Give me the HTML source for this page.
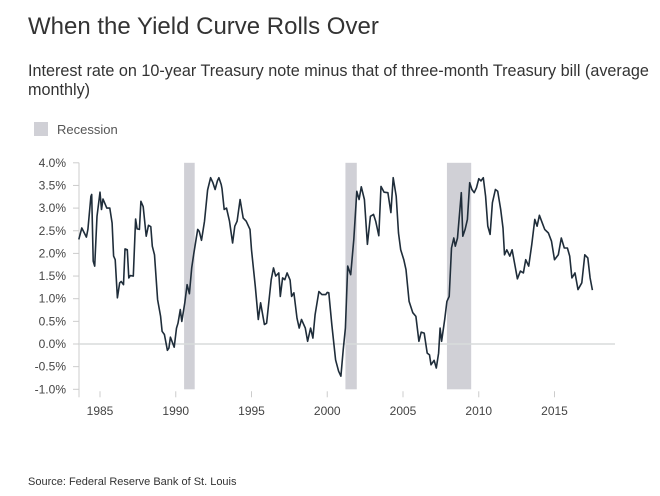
<!DOCTYPE html>
<html><head><meta charset="utf-8"><style>
body{margin:0;background:#fff;width:660px;height:496px;overflow:hidden;font-family:"Liberation Sans",sans-serif;}
#title{position:absolute;left:28px;top:13px;font-size:24px;color:#333;}
#sub{position:absolute;left:28px;top:62px;width:632px;font-size:16.2px;line-height:19px;color:#333;}
#leg{position:absolute;left:34px;top:122px;font-size:13px;color:#555;}
#leg span.b{display:inline-block;width:14px;height:14px;background:#d0d0d6;vertical-align:-2px;margin-right:9px;}
#src{position:absolute;left:28px;top:476px;font-size:11px;color:#333;}
svg{position:absolute;left:0;top:0;}
</style></head><body>
<div id="title">When the Yield Curve Rolls Over</div>
<div id="sub">Interest rate on 10-year Treasury note minus that of three-month Treasury bill (average monthly)</div>
<div id="leg"><span class="b"></span>Recession</div>
<div id="src">Source: Federal Reserve Bank of St. Louis</div>
<svg id="c" width="660" height="496"></svg>
<script>
const recStart=[1990.55,2001.2,2007.9];
const recEnd=[1991.25,2001.95,2009.5];
const yTicks=[4,3.5,3,2.5,2,1.5,1,0.5,0,-0.5,-1];
const yLabels=["4.0%","3.5%","3.0%","2.5%","2.0%","1.5%","1.0%","0.5%","0.0%","-0.5%","-1.0%"];
const xTicks=[1985,1990,1995,2000,2005,2010,2015];
const years=[1983.6,1983.8,1984.1,1984.2,1984.4,1984.45,1984.55,1984.65,1984.8,1985.0,1985.1,1985.2,1985.45,1985.65,1985.8,1985.9,1986.0,1986.15,1986.3,1986.4,1986.55,1986.65,1986.8,1986.9,1987.0,1987.2,1987.35,1987.45,1987.6,1987.7,1987.85,1988.05,1988.2,1988.35,1988.45,1988.6,1988.8,1989.0,1989.1,1989.25,1989.45,1989.55,1989.65,1989.9,1990.05,1990.15,1990.3,1990.4,1990.6,1990.75,1990.9,1991.05,1991.2,1991.45,1991.55,1991.7,1991.9,1992.1,1992.3,1992.45,1992.6,1992.75,1992.85,1993.0,1993.05,1993.2,1993.35,1993.55,1993.75,1993.9,1994.05,1994.25,1994.45,1994.65,1994.9,1995.0,1995.25,1995.45,1995.6,1995.85,1996.0,1996.3,1996.45,1996.6,1996.8,1996.9,1997.05,1997.2,1997.35,1997.55,1997.65,1997.8,1998.0,1998.15,1998.3,1998.55,1998.7,1998.9,1999.05,1999.2,1999.45,1999.65,1999.9,2000.0,2000.1,2000.3,2000.55,2000.75,2000.9,2001.05,2001.2,2001.35,2001.55,2001.75,2001.95,2002.1,2002.25,2002.45,2002.65,2002.85,2003.05,2003.2,2003.4,2003.55,2003.75,2004.0,2004.2,2004.35,2004.55,2004.7,2004.85,2005.05,2005.2,2005.4,2005.65,2005.85,2006.05,2006.2,2006.4,2006.6,2006.75,2006.85,2007.05,2007.2,2007.35,2007.45,2007.55,2007.75,2007.9,2008.05,2008.2,2008.35,2008.45,2008.6,2008.85,2008.95,2009.1,2009.25,2009.4,2009.55,2009.7,2009.85,2010.0,2010.15,2010.3,2010.45,2010.6,2010.75,2010.9,2011.1,2011.25,2011.45,2011.6,2011.7,2011.85,2012.05,2012.2,2012.4,2012.55,2012.75,2012.95,2013.1,2013.3,2013.5,2013.7,2013.85,2014.0,2014.15,2014.35,2014.6,2014.8,2015.0,2015.25,2015.45,2015.65,2015.85,2016.0,2016.15,2016.35,2016.55,2016.8,2017.0,2017.2,2017.35,2017.5];
const spread=[2.31,2.56,2.36,2.53,3.26,3.30,1.83,1.72,2.82,3.35,2.97,3.2,3.0,3.0,2.67,1.94,1.86,1.02,1.35,1.38,1.31,2.1,2.08,1.46,1.51,1.5,2.76,2.54,2.53,3.15,3.03,2.38,2.62,2.59,2.16,1.97,0.98,0.61,0.28,0.21,-0.14,-0.09,0.15,-0.07,0.35,0.46,0.76,0.5,0.91,1.31,1.11,1.68,2.01,2.53,2.49,2.29,2.71,3.40,3.67,3.56,3.41,3.6,3.67,3.52,3.43,2.97,3.0,2.71,2.23,2.6,2.71,3.19,2.78,2.71,2.53,2.08,1.27,0.54,0.91,0.43,0.46,1.42,1.68,1.5,1.57,1.05,1.46,1.42,1.57,1.41,1.05,1.13,0.57,0.35,0.54,0.35,0.06,0.35,0.13,0.65,1.16,1.09,1.09,1.14,1.13,0.43,-0.35,-0.6,-0.71,-0.13,0.35,1.72,1.53,2.31,3.37,3.19,3.47,3.19,2.2,2.82,2.86,2.71,2.39,3.48,3.35,3.34,2.9,3.67,3.26,2.45,2.08,1.86,1.64,0.94,0.69,0.61,0.06,0.26,0.24,-0.2,-0.24,-0.46,-0.36,-0.53,-0.2,0.35,0.06,0.54,0.94,1.05,2.12,2.34,2.16,2.34,3.34,2.38,2.53,2.75,3.56,3.41,3.34,3.45,3.65,3.6,3.67,3.26,2.6,2.42,3.12,3.41,3.37,2.97,2.56,1.97,2.08,1.94,2.08,1.72,1.44,1.61,1.57,1.86,1.72,2.2,2.75,2.6,2.84,2.71,2.53,2.45,2.27,1.86,1.97,2.34,2.12,2.12,1.94,1.46,1.57,1.2,1.35,1.97,1.9,1.46,1.19];
const NS="http://www.w3.org/2000/svg";
const svg=document.getElementById('c');
const X=y=>100+(y-1985)*15.15;
const Y=v=>344-v*45.3;
function mk(t,a){const e=document.createElementNS(NS,t);for(const k in a)e.setAttribute(k,a[k]);svg.appendChild(e);return e;}
recStart.forEach((s,i)=>{
 const r=mk('rect',{x:X(s),y:Y(4),width:X(recEnd[i])-X(s),height:Y(-1)-Y(4),fill:'#d0d0d6'});
 
 
});
const ax=mk('line',{x1:79,x2:79,y1:Y(4),y2:Y(-1)+8,stroke:'#ccc','stroke-width':1});


yTicks.forEach((v,i)=>{
 const tk=mk('line',{x1:73,x2:79,y1:Y(v),y2:Y(v),stroke:'#ccc'});
 
 
 const t=mk('text',{x:66,y:Y(v)+4,'text-anchor':'end','font-size':12,fill:'#444','font-family':'Liberation Sans, sans-serif'});
 t.textContent=yLabels[i];
 
 
});
const z=mk('line',{x1:79,x2:615,y1:Y(0),y2:Y(0),stroke:'#d8dcdc','stroke-width':1.5});


xTicks.forEach(yr=>{
 const tk=mk('line',{x1:X(yr),x2:X(yr),y1:Y(-1)+2,y2:Y(-1)+8,stroke:'#ccc'});
 
 
 const t=mk('text',{x:X(yr),y:415,'text-anchor':'middle','font-size':12,fill:'#444','font-family':'Liberation Sans, sans-serif'});
 t.textContent=yr;
 
 
});
const p=mk('path',{d:years.map((y,i)=>(i?'L':'M')+X(y).toFixed(1)+','+Y(spread[i]).toFixed(1)).join(''),fill:'none',stroke:'#1f2d3a','stroke-width':1.6,'stroke-linejoin':'round'});


</script>
</body></html>
